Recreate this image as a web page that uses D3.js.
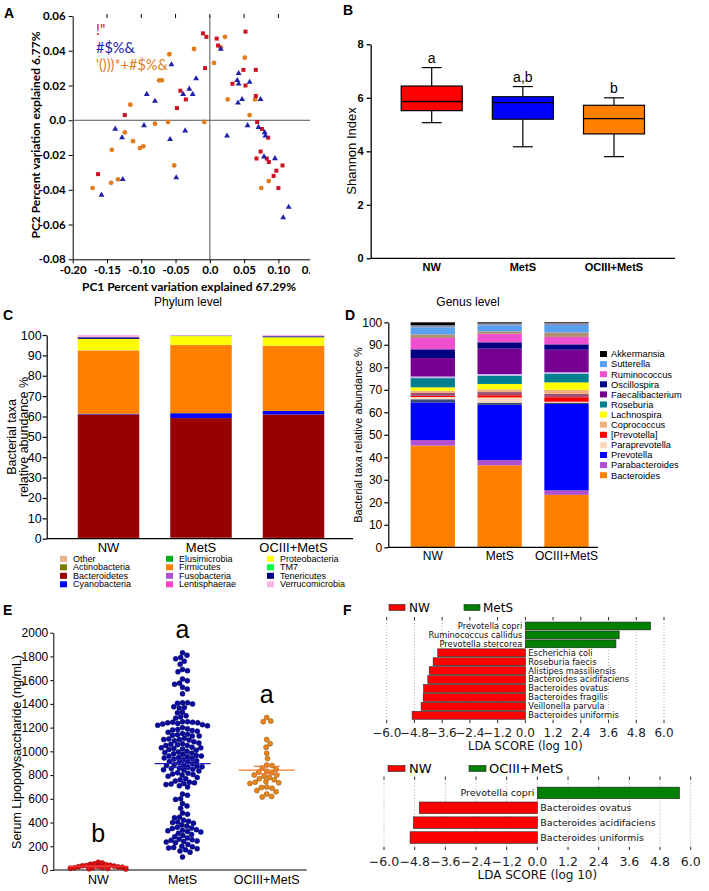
<!DOCTYPE html>
<html><head><meta charset="utf-8">
<script src="https://cdn.jsdelivr.net/npm/d3@7"></script>
<style>body{margin:0;background:#fff}svg{display:block}</style>
</head><body>
<svg id="fig" width="709" height="891"></svg>
<script>
// ================= DATA =================
const groups = ["NW", "MetS", "OCIII+MetS"];

// Panel A: PCoA coordinates [PC1, PC2]
const pcaNW = [[-0.010,0.050],[-0.005,0.048],[0.010,0.047],[0.012,0.043],[0.052,0.051],[-0.007,0.030],[0.049,0.029],[0.067,0.029],[0.033,0.021],[0.052,0.020],[-0.043,0.017],[-0.035,0.012],[-0.048,0.007],[-0.124,0.003],[0.067,0.014],[0.069,-0.001],[0.076,-0.005],[0.085,-0.010],[0.074,-0.018],[0.068,-0.022],[0.083,-0.022],[0.086,-0.024],[0.093,-0.032],[0.097,-0.029],[0.106,-0.026],[0.100,-0.039],[-0.163,-0.031]];
const pcaMetS = [[-0.056,0.032],[0.016,0.041],[-0.020,0.024],[-0.030,0.018],[-0.025,0.015],[-0.039,0.015],[-0.092,0.015],[-0.080,0.011],[-0.138,-0.005],[-0.096,-0.003],[-0.128,-0.010],[-0.036,-0.006],[-0.058,-0.011],[-0.049,-0.033],[-0.127,-0.034],[-0.158,-0.043],[0.025,-0.009],[0.042,0.027],[0.040,0.023],[0.042,0.021],[0.058,0.022],[0.047,0.012],[0.041,0.010],[0.074,0.012],[0.055,-0.003],[0.071,-0.004],[0.080,-0.007],[0.081,-0.009],[0.079,-0.021],[0.095,-0.022],[0.115,-0.050],[0.107,-0.056]];
const pcaOC = [[-0.059,0.038],[-0.023,0.041],[0.022,0.048],[0.006,0.033],[0.016,0.042],[0.051,0.036],[-0.070,0.023],[-0.074,0.023],[-0.116,0.009],[0.026,0.012],[0.066,0.012],[0.058,0.003],[-0.008,-0.001],[-0.061,-0.001],[-0.080,-0.002],[-0.124,-0.007],[-0.112,-0.012],[-0.097,-0.015],[-0.102,-0.016],[-0.143,-0.017],[-0.052,-0.026],[-0.171,-0.039],[-0.144,-0.036],[-0.134,-0.034],[0.075,-0.039],[0.086,-0.035]];
const pcaLegend = ['!"', '#$%&', "'()))*+#$%&"];
const pcaXTicks = [-0.20,-0.15,-0.10,-0.05,0.0,0.05,0.10,0.15];
const pcaYTicks = [-0.08,-0.06,-0.04,-0.02,0.0,0.02,0.04,0.06];

// Panel B: Shannon index box plots
const shannonMin = [5.07, 4.17, 3.80];
const shannonQ1  = [5.52, 5.20, 4.65];
const shannonMed = [5.86, 5.82, 5.22];
const shannonQ3  = [6.44, 6.04, 5.72];
const shannonMax = [7.13, 6.42, 6.00];
const shannonLetters = ["a", "a,b", "b"];
const shannonTicks = [0, 2, 4, 6, 8];

// Panel C: phylum level relative abundance (%)
const phyla = ["Other","Actinobacteria","Bacteroidetes","Cyanobacteria","Elusimicrobia","Firmicutes","Fusobacteria","Lentisphaerae","Proteobacteria","TM7","Tenericutes","Verrucomicrobia"];
const phylumNW   = [0.1, 0.3, 60.6, 0.3, 0.05, 31.0, 0.05, 0.05, 5.6, 0.05, 0.8, 1.1];
const phylumMetS = [0.1, 0.4, 58.7, 2.4, 0.05, 33.4, 0.05, 0.05, 4.3, 0.05, 0.2, 0.3];
const phylumOC   = [0.1, 0.3, 60.6, 1.7, 0.05, 31.9, 0.05, 0.05, 4.1, 0.05, 0.5, 0.6];
const phylumColors = ["#e8b48c","#7d7d00","#990000","#0000ff","#00b020","#ff8000","#b050d0","#ff40c8","#ffff00","#00ff40","#000080","#ffb4e6"];

// Panel D: genus level relative abundance (%), stacked bottom -> top
const genera = ["Bacteroides","Parabacteroides","Prevotella","minor1","Paraprevotella","[Prevotella]","minor2","Coprococcus","Lachnospira","Roseburia","minor3","Faecalibacterium","Oscillospira","Ruminococcus","minor4","Sutterella","minor5","Akkermansia"];
const genusNW   = [45.2, 2.5, 16.7, 1.4, 1.0, 0.5, 1.3, 1.0, 1.5, 4.1, 0.7, 8.2, 3.9, 5.0, 1.6, 3.2, 0.9, 1.3];
const genusMetS = [36.4, 2.4, 24.5, 1.0, 2.3, 1.0, 1.4, 1.2, 2.4, 3.7, 0.7, 11.3, 2.8, 3.8, 1.1, 2.7, 0.8, 0.5];
const genusOC   = [23.3, 2.0, 38.4, 0.6, 0.4, 2.0, 1.5, 1.8, 3.3, 3.9, 0.6, 10.0, 2.4, 3.3, 2.0, 3.3, 0.8, 0.4];
const genusColors = ["#ff8000","#b050d0","#0000ff","#3a4a70","#fcd8c0","#ff0000","#a05078","#f0b080","#ffff00","#00808e","#c8b8f0","#780090","#000080","#f050d0","#b09070","#5aa0f0","#9090a8","#000000"];
const genusLegend = ["Akkermansia","Sutterella","Ruminococcus","Oscillospira","Faecalibacterium","Roseburia","Lachnospira","Coprococcus","[Prevotella]","Paraprevotella","Prevotella","Parabacteroides","Bacteroides"];
const pctTicks = [0,10,20,30,40,50,60,70,80,90,100];

// Panel E: serum LPS (ng/mL)
const lpsNW = [65, 58, 52, 48, 44, 40, 38, 35, 33, 30, 28, 26, 24, 22, 20, 18, 15, 12, 10, 8];
const lpsMetS = [1830,1810,1790,1780,1760,1735,1690,1680,1670,1610,1595,1575,1565,1540,1525,1485,
  1410,1410,1405,1400,1375,1370,1365,1330,1325,1300,1290,1280,
  1250,1250,1245,1245,1240,1240,1235,1230,1225,1220,1215,1200,
  1190,1185,1180,1175,1170,1160,1150,1145,1140,1135,1130,1130,
  1110,1105,1100,1100,1095,1090,1080,1070,1065,1060,1055,1050,1050,
  1035,1030,1030,1025,1020,1015,1010,1000,995,990,985,980,975,
  965,960,960,955,950,945,940,935,930,920,915,910,905,
  895,890,885,880,875,870,865,860,855,850,845,840,835,
  820,815,810,805,800,790,780,770,760,750,
  740,735,730,725,720,710,700,
  640,630,600,595,560,540,520,480,470,
  445,440,420,410,405,400,395,380,370,
  360,355,350,340,335,330,325,320,310,300,
  290,280,270,260,255,250,245,240,235,230,
  215,200,195,190,185,180,170,160,150,110];
const lpsOC = [1285,1255,1250,1100,1065,1035,985,940,885,880,860,850,830,825,820,800,800,790,780,770,760,745,740,735,730,700,695,690,670,660,640,620,615];
const lpsLetters = ["b", "a", "a"];
const lpsTicks = [0,200,400,600,800,1000,1200,1400,1600,1800,2000];

// Panel F: LEfSe LDA scores
const ldaTaxa1 = ["Prevotella copri","Ruminococcus callidus","Prevotella stercorea","Escherichia coli","Roseburia faecis","Alistipes massiliensis","Bacteroides acidifaciens","Bacteroides ovatus","Bacteroides fragilis","Veillonella parvula","Bacteroides uniformis"];
const ldaScores1 = [5.42, 4.06, 3.92, -3.79, -3.99, -4.16, -4.22, -4.40, -4.42, -4.51, -4.90];
const ldaTaxa2 = ["Prevotella copri","Bacteroides ovatus","Bacteroides acidifaciens","Bacteroides uniformis"];
const ldaScores2 = [5.56, -4.62, -4.85, -4.98];
const ldaTicks = [-6.0,-4.8,-3.6,-2.4,-1.2,0.0,1.2,2.4,3.6,4.8,6.0];

// ================= DRAW =================
const svg = d3.select("#fig");
const ARIAL = "'Liberation Sans', Arial, sans-serif";
const CAL = "Lato, 'Open Sans', sans-serif";
const DV = "'DejaVu Sans', sans-serif";
const groupColors = ["#ff0000", "#0000ff", "#ff8000"];

function panelLabel(t, x, y) {
  svg.append("text").attr("x", x).attr("y", y).text(t)
    .attr("font-family", ARIAL).attr("font-weight", "bold").attr("font-size", 14);
}
panelLabel("A", 4, 18); panelLabel("B", 343, 15);
panelLabel("C", 3, 320); panelLabel("D", 345, 320);
panelLabel("E", 3, 615); panelLabel("F", 343, 615);

// ---------- Panel A ----------
(function(){
  svg.append("clipPath").attr("id","clipA").append("rect").attr("x",0).attr("y",0).attr("width",310).attr("height",300);
  const g = svg.append("g").attr("clip-path","url(#clipA)");
  const x = d3.scaleLinear().domain([-0.20, 0.15]).range([72.7, 312.7]);
  const y = d3.scaleLinear().domain([-0.08, 0.06]).range([259.3, 16]);
  const fmt = d => d === 0 ? "0.0" : d3.format(".2f")(d).replace("−","-");
  const ax = g.append("g").attr("transform", `translate(0,${y(-0.08)})`)
    .call(d3.axisBottom(x).tickValues(pcaXTicks).tickFormat(fmt).tickSize(4).tickSizeOuter(0));
  const ay = g.append("g").attr("transform", `translate(${x(-0.20)},0)`)
    .call(d3.axisLeft(y).tickValues(pcaYTicks).tickFormat(fmt).tickSize(4).tickSizeOuter(0));
  [ax, ay].forEach(a => {
    a.selectAll("text").attr("font-family", CAL).attr("font-weight", "bold").attr("font-size", 11.5).attr("fill","#000");
    a.select(".domain").attr("stroke", "#000");
  });
  g.append("g").selectAll("line").data(pcaXTicks.slice(1)).join("line")
    .attr("x1", d => x(d)).attr("x2", d => x(d)).attr("y1", y(0.06) - 2).attr("y2", y(0.06) + 2).attr("stroke", "#000");
  g.append("line").attr("x1", x(-0.20)).attr("x2", x(0.15)).attr("y1", y(0)).attr("y2", y(0)).attr("stroke", "#555").attr("stroke-width", 1);
  g.append("line").attr("x1", x(0)).attr("x2", x(0)).attr("y1", y(0.06)).attr("y2", y(-0.08)).attr("stroke", "#555").attr("stroke-width", 1);
  g.append("g").selectAll("circle").data(pcaOC).join("circle")
    .attr("cx", d => x(d[0])).attr("cy", d => y(d[1])).attr("r", 2.4).attr("fill", "#e07d1c");
  g.append("g").selectAll("rect").data(pcaNW).join("rect")
    .attr("x", d => x(d[0]) - 2).attr("y", d => y(d[1]) - 2).attr("width", 4).attr("height", 4).attr("fill", "#cc1122");
  const tri = d3.symbol().type(d3.symbolTriangle).size(15);
  g.append("g").selectAll("path").data(pcaMetS).join("path")
    .attr("transform", d => `translate(${x(d[0])},${y(d[1])})`).attr("d", tri).attr("fill", "#2020a8");
  const legCols = ["#cc1122", "#2020a8", "#e07d1c"];
  g.append("g").selectAll("text").data(pcaLegend).join("text")
    .attr("x", 96).attr("y", (d, i) => 35 + i * 17.5).text(d => d)
    .attr("fill", (d, i) => legCols[i]).attr("font-family", CAL).attr("font-size", 14.5);
  g.append("text").attr("transform", "translate(40,135) rotate(-90)").attr("text-anchor", "middle")
    .text("PC2 Percent variation explained 6.77%").attr("font-family", CAL).attr("font-weight", "bold").attr("font-size", 12);
  g.append("text").attr("x", 189).attr("y", 291).attr("text-anchor", "middle")
    .text("PC1 Percent variation explained 67.29%").attr("font-family", CAL).attr("font-weight", "bold").attr("font-size", 12);
})();

// ---------- Panel B ----------
(function(){
  const g = svg.append("g");
  const x = d3.scalePoint().domain(groups).range([431.7, 614]);
  const y = d3.scaleLinear().domain([0, 8]).range([258.3, 44.3]);
  const ay = g.append("g").attr("transform", "translate(370.7,0)")
    .call(d3.axisLeft(y).tickValues(shannonTicks).tickSize(4).tickSizeOuter(0));
  ay.selectAll("text").attr("font-family", ARIAL).attr("font-weight", "bold").attr("font-size", 11).attr("fill","#000");
  ay.selectAll("line,path").attr("stroke", "#000").attr("stroke-width", 1.3);
  g.append("line").attr("x1", 370.7).attr("x2", 675).attr("y1", y(0)).attr("y2", y(0)).attr("stroke", "#000").attr("stroke-width", 1.3);
  g.append("g").selectAll("text").data(groups).join("text")
    .attr("x", d => x(d)).attr("y", 271).attr("text-anchor", "middle").text(d => d)
    .attr("font-family", ARIAL).attr("font-weight", "bold").attr("font-size", 11);
  g.append("text").attr("transform", "translate(356,151) rotate(-90)").attr("text-anchor", "middle")
    .text("Shannon Index").attr("font-family", ARIAL).attr("font-size", 13);
  const bw = 61, cw = 20;
  groups.forEach((grp, i) => {
    const cx = x(grp);
    const bg = g.append("g").attr("stroke", "#000").attr("stroke-width", 1.2);
    bg.append("line").attr("x1", cx).attr("x2", cx).attr("y1", y(shannonMax[i])).attr("y2", y(shannonQ3[i]));
    bg.append("line").attr("x1", cx).attr("x2", cx).attr("y1", y(shannonQ1[i])).attr("y2", y(shannonMin[i]));
    bg.append("line").attr("x1", cx - cw/2).attr("x2", cx + cw/2).attr("y1", y(shannonMax[i])).attr("y2", y(shannonMax[i]));
    bg.append("line").attr("x1", cx - cw/2).attr("x2", cx + cw/2).attr("y1", y(shannonMin[i])).attr("y2", y(shannonMin[i]));
    bg.append("rect").attr("x", cx - bw/2).attr("width", bw).attr("y", y(shannonQ3[i])).attr("height", y(shannonQ1[i]) - y(shannonQ3[i])).attr("fill", groupColors[i]);
    bg.append("line").attr("x1", cx - bw/2).attr("x2", cx + bw/2).attr("y1", y(shannonMed[i])).attr("y2", y(shannonMed[i])).attr("stroke-width", 1.4);
    g.append("text").attr("x", cx).attr("y", y(shannonMax[i]) - 5).attr("text-anchor", "middle").text(shannonLetters[i])
      .attr("font-family", ARIAL).attr("font-size", 14);
  });
})();

// ---------- stacked bar helper ----------
function stacked(g, cats, centers, width, series, values, colors, y) {
  cats.forEach((c, ci) => {
    let acc = 0;
    series.forEach((s, si) => {
      const v = values[ci][si];
      g.append("rect").attr("x", centers[ci] - width/2).attr("width", width)
        .attr("y", y(acc + v)).attr("height", Math.max(0, y(acc) - y(acc + v))).attr("fill", colors[si]);
      acc += v;
    });
  });
}

// ---------- Panel C ----------
(function(){
  const g = svg.append("g");
  const x = d3.scalePoint().domain(groups).range([108.5, 293.5]);
  const y = d3.scaleLinear().domain([0, 100]).range([538.7, 335]);
  stacked(g, groups, groups.map(d => x(d)), 61.5, phyla, [phylumNW, phylumMetS, phylumOC], phylumColors, y);
  const ay = g.append("g").attr("transform", "translate(46.7,0)")
    .call(d3.axisLeft(y).tickValues(pctTicks).tickSize(4).tickPadding(1).tickSizeOuter(0));
  ay.selectAll("text").attr("font-family", ARIAL).attr("font-size", 12.5).attr("fill","#000");
  ay.selectAll("line,path").attr("stroke", "#000").attr("stroke-width", 1.2);
  g.append("line").attr("x1", 46.7).attr("x2", 353).attr("y1", y(0)).attr("y2", y(0)).attr("stroke", "#000").attr("stroke-width", 1.2);
  g.append("g").selectAll("text").data(groups).join("text")
    .attr("x", d => x(d)).attr("y", 551.5).attr("text-anchor", "middle").text(d => d)
    .attr("font-family", ARIAL).attr("font-size", 13);
  g.append("text").attr("transform", "translate(16,437) rotate(-90)").attr("text-anchor", "middle")
    .text("Bacterial taxa").attr("font-family", ARIAL).attr("font-size", 12.5);
  g.append("text").attr("transform", "translate(28,437) rotate(-90)").attr("text-anchor", "middle")
    .text("relative abundance %").attr("font-family", ARIAL).attr("font-size", 12.5);
  g.append("text").attr("x", 188).attr("y", 306).attr("text-anchor", "middle")
    .text("Phylum level").attr("font-family", ARIAL).attr("font-size", 12);
  const colX = [60, 166, 267];
  phyla.forEach((p, i) => {
    const col = Math.floor(i / 4), row = i % 4;
    const yy = 558.8 + row * 8.5;
    g.append("rect").attr("x", colX[col]).attr("y", yy - 3).attr("width", 7).attr("height", 6).attr("fill", phylumColors[i]);
    g.append("text").attr("x", colX[col] + 13).attr("y", yy + 3).text(p).attr("font-family", ARIAL).attr("font-size", 9);
  });
})();

// ---------- Panel D ----------
(function(){
  const g = svg.append("g");
  const x = d3.scalePoint().domain(groups).range([432.8, 566.5]);
  const y = d3.scaleLinear().domain([0, 100]).range([547.3, 322.3]);
  stacked(g, groups, groups.map(d => x(d)), 44.3, genera, [genusNW, genusMetS, genusOC], genusColors, y);
  const ay = g.append("g").attr("transform", "translate(388.3,0)")
    .call(d3.axisLeft(y).tickValues(pctTicks).tickSize(4).tickPadding(2).tickSizeOuter(0));
  ay.selectAll("text").attr("font-family", ARIAL).attr("font-size", 12).attr("fill","#000");
  ay.selectAll("line,path").attr("stroke", "#000").attr("stroke-width", 1.2);
  g.append("line").attr("x1", 388.3).attr("x2", 598).attr("y1", y(0)).attr("y2", y(0)).attr("stroke", "#000").attr("stroke-width", 1.2);
  g.append("g").selectAll("text").data(groups).join("text")
    .attr("x", d => x(d)).attr("y", 560).attr("text-anchor", "middle").text(d => d)
    .attr("font-family", ARIAL).attr("font-size", 12);
  g.append("text").attr("transform", "translate(362,435) rotate(-90)").attr("text-anchor", "middle")
    .text("Bacterial taxa relative abundance %").attr("font-family", ARIAL).attr("font-size", 11);
  g.append("text").attr("x", 468).attr("y", 306).attr("text-anchor", "middle")
    .text("Genus level").attr("font-family", ARIAL).attr("font-size", 12);
  genusLegend.forEach((n, i) => {
    const yy = 354 + i * 10.1;
    g.append("rect").attr("x", 600).attr("y", yy - 3).attr("width", 7).attr("height", 6).attr("fill", genusColors[genera.indexOf(n)]);
    g.append("text").attr("x", 611).attr("y", yy + 3.3).text(n).attr("font-family", ARIAL).attr("font-size", 9.3);
  });
})();

// ---------- Panel E ----------
(function(){
  const g = svg.append("g");
  const x = d3.scalePoint().domain(groups).range([98.3, 266.7]);
  const y = d3.scaleLinear().domain([0, 2000]).range([870, 632.7]);
  const ay = g.append("g").attr("transform", "translate(53.3,0)")
    .call(d3.axisLeft(y).tickValues(lpsTicks).tickFormat(d3.format("d")).tickSize(3).tickPadding(2).tickSizeOuter(0));
  ay.selectAll("text").attr("font-family", ARIAL).attr("font-size", 12).attr("fill","#000");
  ay.selectAll("line,path").attr("stroke", "#000").attr("stroke-width", 1);
  g.append("line").attr("x1", 53.3).attr("x2", 306.7).attr("y1", y(0)).attr("y2", y(0)).attr("stroke", "#000");
  g.append("g").selectAll("text").data(groups).join("text")
    .attr("x", d => x(d)).attr("y", 884).attr("text-anchor", "middle").text(d => d)
    .attr("font-family", ARIAL).attr("font-size", 12.5);
  g.append("text").attr("transform", "translate(21,752) rotate(-90)").attr("text-anchor", "middle")
    .text("Serum Lipopolysaccharide  (ng/mL)").attr("font-family", ARIAL).attr("font-size", 12.5);

  function swarm(values, cx, dmin) {
    const pts = values.map(v => ({ v, y: y(v) })).sort((a, b) => b.v - a.v);
    const placed = [];
    for (const p of pts) {
      const near = placed.filter(q => Math.abs(q.y - p.y) < dmin);
      const cands = [0];
      for (const q of near) { const dx = Math.sqrt(dmin * dmin - (q.y - p.y) ** 2); cands.push(q.x + dx, q.x - dx); }
      cands.sort((a, b) => Math.abs(a) - Math.abs(b));
      for (const c of cands) {
        if (near.every(q => (q.x - c) ** 2 + (q.y - p.y) ** 2 >= dmin * dmin - 1e-6)) { p.x = c; break; }
      }
      placed.push(p);
    }
    return placed.map(p => ({ v: p.v, y: p.y, x: cx + p.x }));
  }
  const sets = [lpsNW, lpsMetS, lpsOC];
  const fills = ["#dd1111", "#0a0aa0", "#e8861e"];
  const strokes = ["#880000", "#000060", "#8a4a00"];
  const dmins = [4.1, 5.1, 5.4];
  const meanW = [30, 28, 28];
  const letterOff = [20, 15, 15];
  sets.forEach((vals, i) => {
    const cx = x(groups[i]);
    const pts = swarm(vals, cx, dmins[i]);
    g.append("g").selectAll("circle").data(pts).join("circle")
      .attr("cx", d => d.x).attr("cy", d => d.y).attr("r", 2.5)
      .attr("fill", fills[i]).attr("stroke", strokes[i]).attr("stroke-width", 0.5);
    const m = d3.mean(vals), se = d3.deviation(vals) / Math.sqrt(vals.length);
    const lc = ["#ee3333", "#2222bb", "#f07830"][i];
    const lg = g.append("g").attr("stroke", lc).attr("stroke-width", 1.2);
    lg.append("line").attr("x1", cx - meanW[i]).attr("x2", cx + meanW[i]).attr("y1", y(m)).attr("y2", y(m));
    lg.append("line").attr("x1", cx).attr("x2", cx).attr("y1", y(m + se)).attr("y2", y(m - se));
    lg.append("line").attr("x1", cx - 13).attr("x2", cx + 13).attr("y1", y(m + se)).attr("y2", y(m + se));
    lg.append("line").attr("x1", cx - 13).attr("x2", cx + 13).attr("y1", y(m - se)).attr("y2", y(m - se));
    const top = d3.max(vals);
    g.append("text").attr("x", cx).attr("y", y(top) - letterOff[i]).attr("text-anchor", "middle")
      .text(lpsLetters[i]).attr("font-family", ARIAL).attr("font-size", 25);
  });
})();

// ---------- Panel F ----------
function ldaPanel(opts) {
  const g = svg.append("g");
  const x = d3.scaleLinear().domain([-6, 6]).range(opts.xr);
  const yb = d3.scaleBand().domain(opts.taxa).range(opts.yr).paddingInner(opts.pad).paddingOuter(opts.pad / 2);
  g.append("g").selectAll("line").data(ldaTicks).join("line")
    .attr("x1", d => x(d)).attr("x2", d => x(d)).attr("y1", opts.gy[0]).attr("y2", opts.gy[1])
    .attr("stroke", "#999").attr("stroke-width", 0.8).attr("stroke-dasharray", "1,2");
  g.append("g").selectAll("line").data(ldaTicks).join("line")
    .attr("x1", d => x(d)).attr("x2", d => x(d)).attr("y1", opts.gy[0]).attr("y2", opts.gy[0] + 3).attr("stroke", "#333");
  g.append("g").selectAll("line").data(ldaTicks).join("line")
    .attr("x1", d => x(d)).attr("x2", d => x(d)).attr("y1", opts.gy[1] - 3).attr("y2", opts.gy[1]).attr("stroke", "#333");
  g.append("g").selectAll("rect").data(opts.taxa).join("rect")
    .attr("x", (d, i) => x(Math.min(0, opts.scores[i]))).attr("width", (d, i) => Math.abs(x(opts.scores[i]) - x(0)))
    .attr("y", d => yb(d)).attr("height", yb.bandwidth())
    .attr("fill", (d, i) => opts.scores[i] > 0 ? "#008000" : "#ff0000").attr("stroke", "#222").attr("stroke-width", 0.6);
  g.append("g").selectAll("text").data(opts.taxa).join("text")
    .attr("x", (d, i) => opts.scores[i] > 0 ? x(0) - 3 : x(0) + 3)
    .attr("y", d => yb(d) + yb.bandwidth() / 2).attr("dy", "0.35em")
    .attr("text-anchor", (d, i) => opts.scores[i] > 0 ? "end" : "start")
    .text(d => d).attr("font-family", DV).attr("font-size", opts.lfs).attr("fill", "#111");
  g.append("g").selectAll("text").data(ldaTicks).join("text")
    .attr("x", d => x(d)).attr("y", opts.ty).attr("text-anchor", "middle")
    .text(d => d3.format(".1f")(d)).attr("font-family", DV).attr("font-size", opts.tfs).attr("fill", "#222");
  g.append("text").attr("x", x(0)).attr("y", opts.titleY).attr("text-anchor", "middle")
    .text("LDA SCORE (log 10)").attr("font-family", DV).attr("font-size", opts.tfs - 0.5).attr("fill", "#111");
  const L = opts.legend;
  g.append("rect").attr("x", L.rx[0]).attr("y", L.y - 3).attr("width", L.rw).attr("height", 6).attr("fill", "#ff0000").attr("stroke", "#222").attr("stroke-width", 0.6);
  g.append("text").attr("x", L.rx[0] + L.rw + 4).attr("y", L.y).attr("dy", "0.35em").text("NW").attr("font-family", DV).attr("font-size", L.fs);
  g.append("rect").attr("x", L.rx[1]).attr("y", L.y - 3).attr("width", L.rw).attr("height", 6).attr("fill", "#008000").attr("stroke", "#222").attr("stroke-width", 0.6);
  g.append("text").attr("x", L.rx[1] + L.rw + 3).attr("y", L.y).attr("dy", "0.35em").text(L.label2).attr("font-family", DV).attr("font-size", L.fs);
}
ldaPanel({ taxa: ldaTaxa1, scores: ldaScores1, xr: [386.7, 664], yr: [621.5, 719.8], pad: 0.12,
  gy: [617, 723], ty: 737, titleY: 750, tfs: 12, lfs: 8.3,
  legend: { rx: [389, 464], rw: 16, y: 607.5, fs: 12, label2: "MetS" } });
ldaPanel({ taxa: ldaTaxa2, scores: ldaScores2, xr: [384, 690.7], yr: [785.5, 845], pad: 0.22,
  gy: [776.7, 850], ty: 866, titleY: 879, tfs: 12.5, lfs: 9.5,
  legend: { rx: [388, 469], rw: 17, y: 768.5, fs: 13, label2: "OCIII+MetS" } });
</script>
</body></html>
